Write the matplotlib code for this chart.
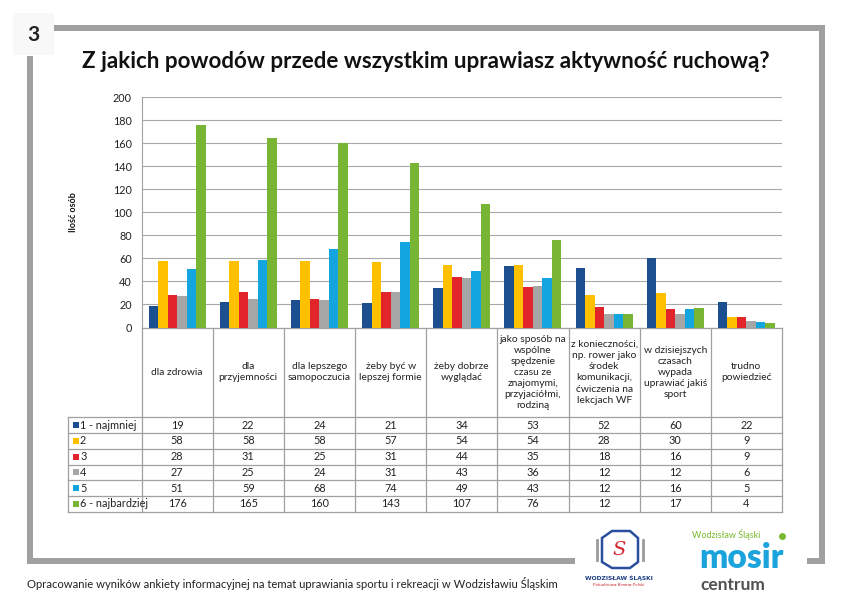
import matplotlib
matplotlib.use('Agg')
import matplotlib.pyplot as plt
from matplotlib.patches import Rectangle, Polygon
from matplotlib import font_manager
import numpy as np

# ---------------- data ----------------
page_number = "3"
title = "Z jakich powodów przede wszystkim uprawiasz aktywność ruchową?"
ylabel = "Ilość osób"
footer = ("Opracowanie wyników ankiety informacyjnej na temat uprawiania sportu "
          "i rekreacji w Wodzisławiu Śląskim")
categories = [
    "dla zdrowia",
    "dla\nprzyjemności",
    "dla lepszego\nsamopoczucia",
    "żeby być w\nlepszej formie",
    "żeby dobrze\nwyglądać",
    "jako sposób na\nwspólne\nspędzenie\nczasu ze\nznajomymi,\nprzyjaciółmi,\nrodziną",
    "z konieczności,\nnp. rower jako\nśrodek\nkomunikacji,\nćwiczenia na\nlekcjach WF",
    "w dzisiejszych\nczasach\nwypada\nuprawiać jakiś\nsport",
    "trudno\npowiedzieć",
]
series_names = ["1 - najmniej", "2", "3", "4", "5", "6 - najbardziej"]
s1 = [19, 22, 24, 21, 34, 53, 52, 60, 22]
s2 = [58, 58, 58, 57, 54, 54, 28, 30, 9]
s3 = [28, 31, 25, 31, 44, 35, 18, 16, 9]
s4 = [27, 25, 24, 31, 43, 36, 12, 12, 6]
s5 = [51, 59, 68, 74, 49, 43, 12, 16, 5]
s6 = [176, 165, 160, 143, 107, 76, 12, 17, 4]
series = [s1, s2, s3, s4, s5, s6]
colors = ['#1B4F8F', '#FFC000', '#E2252B', '#A6A6A6', '#12A5DF', '#78B534']
yticks = list(range(0, 201, 20))

# ---------------- fonts ----------------
available = {f.name for f in font_manager.fontManager.ttflist}
BODY = 'Liberation Sans Narrow' if 'Liberation Sans Narrow' in available else 'Lato'
plt.rcParams['font.family'] = [BODY, 'DejaVu Sans']

# ---------------- layout (pixels) ----------------
W, H = 852, 603
fig = plt.figure(figsize=(W / 100, H / 100), dpi=100)
ov = fig.add_axes([0, 0, 1, 1], zorder=0)
ov.set_xlim(0, W)
ov.set_ylim(H, 0)
ov.axis('off')
renderer = fig.canvas.get_renderer()


def fit(t, width):
    bb = t.get_window_extent(renderer)
    t.set_fontsize(t.get_fontsize() * width / bb.width)


FR = '#A0A0A0'
# frame
ov.add_patch(Rectangle((13, 13), 41, 42, color='#F8F8F8', lw=0))
ov.add_patch(Rectangle((54, 25), 771, 6, color=FR, lw=0))
ov.add_patch(Rectangle((818.5, 25), 6.5, 539, color=FR, lw=0))
ov.add_patch(Rectangle((27, 56), 5.5, 508, color=FR, lw=0))
ov.add_patch(Rectangle((27, 558), 548, 6, color=FR, lw=0))
ov.add_patch(Rectangle((807, 558), 18, 6, color=FR, lw=0))
ov.text(33, 35, page_number, ha='center', va='center', fontsize=15,
        fontweight='bold', color='#222222', family=['Lato', 'DejaVu Sans'])

t = ov.text(426, 62, title, ha='center', va='center', fontsize=16,
            fontweight='bold', color='#111111', family=['Lato', 'DejaVu Sans'])
fit(t, 688)

# chart area
L, R, T, B = 141.5, 782, 97.3, 327.5
ax = fig.add_axes([L / W, 1 - B / H, (R - L) / W, (B - T) / H], zorder=2)
ax.patch.set_alpha(0)
n = len(categories)
x = np.arange(n)
bw = 1 / 7.5
for i, (vals, c) in enumerate(zip(series, colors)):
    ax.bar(x + (i - 2.5) * bw, vals, bw, color=c, linewidth=0, zorder=3)
ax.set_xlim(-0.5, n - 0.5)
ax.set_ylim(0, 200)
ax.set_yticks(yticks)
ax.set_xticks([])
ax.yaxis.grid(True, color='#A8A8A8', lw=0.8)
ax.set_axisbelow(True)
for side in ['top', 'right', 'bottom']:
    ax.spines[side].set_visible(False)
ax.spines['left'].set_color('#A0A0A0')
ax.spines['left'].set_linewidth(0.8)
ax.tick_params(axis='y', length=0, labelsize=7.8, pad=7, labelcolor='#222222')
ov.text(73, 212, ylabel, rotation=90, ha='center', va='center', fontsize=6.5,
        fontweight='bold', color='#111111')

# table
TL = '#A0A0A0'
hdr_bot = 417.3
row_h = (511.7 - hdr_bot) / 6
leg_left = 68.3
col_w = (R - L) / n
edges = [L + k * col_w for k in range(n + 1)]
for xe in edges:
    ov.plot([xe, xe], [B, hdr_bot + 6 * row_h], color=TL, lw=0.9)
ov.plot([leg_left, leg_left], [hdr_bot, hdr_bot + 6 * row_h], color=TL, lw=0.9)
ov.plot([L, R], [B, B], color=TL, lw=0.9)
for j in range(7):
    yy = hdr_bot + j * row_h
    ov.plot([leg_left, R], [yy, yy], color=TL, lw=0.9)

for k, cat in enumerate(categories):
    cx = (edges[k] + edges[k + 1]) / 2
    ov.text(cx, (B + hdr_bot) / 2, cat, ha='center', va='center', fontsize=7.4,
            linespacing=1.3, color='#222222')
for j, (name, vals, c) in enumerate(zip(series_names, series, colors)):
    cy = hdr_bot + (j + 0.5) * row_h
    ov.add_patch(Rectangle((72.5, cy - 3), 6, 6, color=c, lw=0))
    ov.text(80, cy, name, ha='left', va='center', fontsize=7.8, color='#222222')
    for k, v in enumerate(vals):
        cx = (edges[k] + edges[k + 1]) / 2
        ov.text(cx, cy, str(v), ha='center', va='center', fontsize=7.8,
                color='#222222')

# footer
t = ov.text(27, 584, footer, ha='left', va='center', fontsize=9, color='#222222')
fit(t, 536)

# logos (approximate)
ov.add_patch(Polygon([[602, 538], [612, 531], [630, 531], [638, 538],
                      [638, 562], [630, 568], [612, 568], [602, 562]],
                     closed=True, fill=False, ec='#2A4F9E', lw=1.8))
ov.plot([597, 597], [540, 560], color='#9A9A9A', lw=2)
ov.plot([643, 643], [540, 560], color='#9A9A9A', lw=2)
ov.text(619, 550, "S", ha='center', va='center', fontsize=14, color='#D3262D',
        style='italic', family=['DejaVu Serif'])
ov.text(619, 578, "WODZISŁAW ŚLĄSKI", ha='center', va='center', fontsize=4.3,
        fontweight='bold', color='#1E3F86', family=['DejaVu Sans'])
ov.text(619, 585, "Południowa Brama Polski", ha='center', va='center',
        fontsize=3, style='italic', color='#C8262C', family=['DejaVu Sans'])

ov.text(692, 535, "Wodzisław Śląski", ha='left', va='center', fontsize=6.5,
        color='#7AB82F', family=['Lato', 'DejaVu Sans'])
ov.text(741, 558, "mosir", ha='center', va='center', fontsize=24,
        fontweight='heavy', color='#1BA3DC', family=['Lato', 'DejaVu Sans'])
ov.text(733, 585, "centrum", ha='center', va='center', fontsize=12.5,
        fontweight='bold', color='#505050', family=['Lato', 'DejaVu Sans'])
ov.plot([782], [536], marker='o', ms=4, color='#7AB82F')

fig.savefig('out.png', dpi=100)
